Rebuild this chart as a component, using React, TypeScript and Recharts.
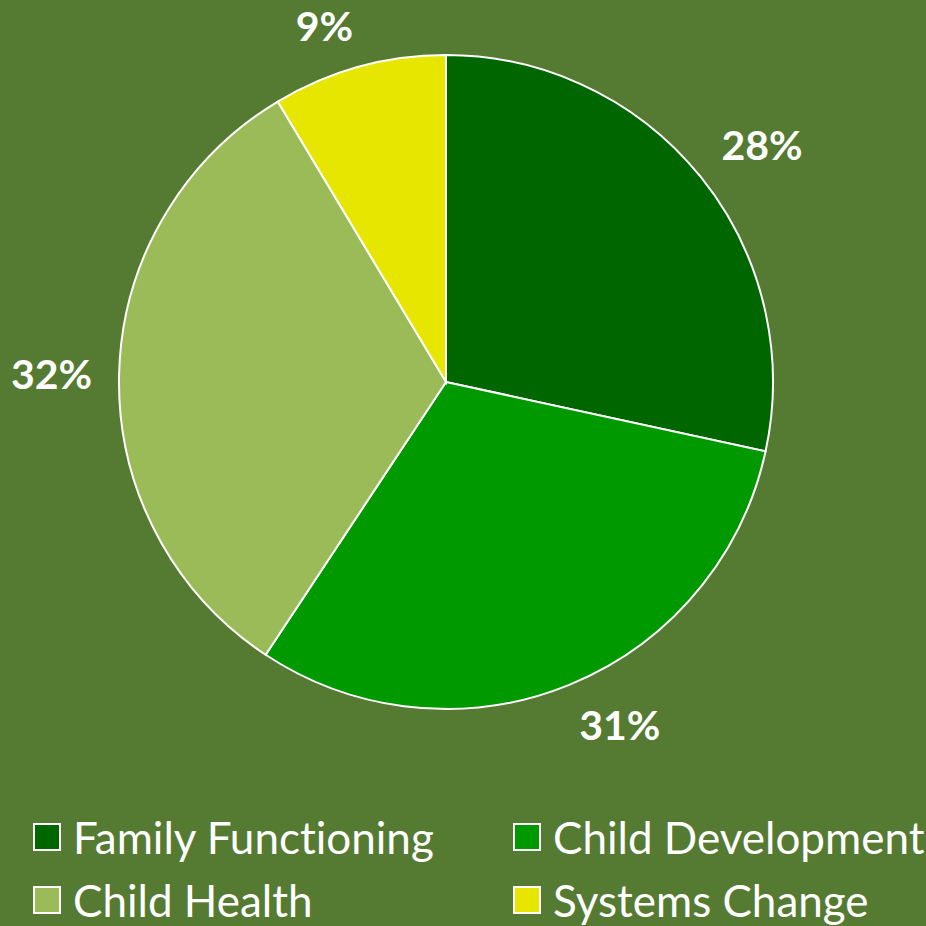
import React from 'react';
import { PieChart, Pie, Cell, Legend } from 'recharts';

const categories = ['Family Functioning', 'Child Development', 'Child Health', 'Systems Change'];
const values = [28.4, 30.9, 32.1, 8.6];
const colors = ['#006600', '#009900', '#9BBB59', '#E6E600'];

const data = categories.map((name, i) => ({ name, value: values[i] }));

const RADIAN = Math.PI / 180;
const FONT = "Lato, 'Open Sans', sans-serif";
const clamp = (v: number) => Math.max(-1, Math.min(1, v));

const renderLabel = (props: any) => {
  const { cx, cy, midAngle, outerRadius, percent } = props;
  const text = `${Math.round(percent * 100)}%`;
  const w = text.length * 27;
  const h = 30;
  const r = outerRadius + 27;
  const c = Math.cos(-midAngle * RADIAN);
  const s = Math.sin(-midAngle * RADIAN);
  const x = cx + r * c + (w / 2) * clamp(c * 4);
  const y = cy + r * s + (h / 2) * clamp(s * 3);
  return (
    <text
      x={x}
      y={y}
      fill="#FFFFFF"
      textAnchor="middle"
      dominantBaseline="central"
      fontFamily={FONT}
      fontWeight={700}
      fontSize={41}
    >
      {text}
    </text>
  );
};

const LegendContent = () => {
  const colLeft = [33, 513];
  const rowCenter = [837, 900];
  return (
    <div style={{ position: 'relative', width: 926, height: 126 }}>
      {categories.map((name, i) => {
        const col = i % 2;
        const row = Math.floor(i / 2);
        return (
          <div
            key={name}
            style={{
              position: 'absolute',
              left: colLeft[col],
              top: rowCenter[row] - 800 - 22,
              height: 44,
              display: 'flex',
              alignItems: 'center',
              whiteSpace: 'nowrap',
            }}
          >
            <span
              style={{
                display: 'inline-block',
                width: 24,
                height: 24,
                background: colors[i],
                border: '2px solid #FFFFFF',
                marginRight: 12,
                boxSizing: 'content-box',
              }}
            />
            <span
              style={{
                color: '#FFFFFF',
                fontFamily: FONT,
                fontSize: 44,
                lineHeight: '44px',
                fontVariantLigatures: 'none',
              }}
            >
              {name}
            </span>
          </div>
        );
      })}
    </div>
  );
};

export default function App() {
  return (
    <div style={{ position: 'absolute', left: 0, top: 0, width: 926, height: 926, background: '#557A32', overflow: 'hidden' }}>
      <PieChart width={926} height={926} margin={{ top: 0, right: 0, bottom: 0, left: 0 }}>
        <Pie
          data={data}
          dataKey="value"
          nameKey="name"
          cx={446}
          cy={382}
          outerRadius={327}
          startAngle={90}
          endAngle={-270}
          stroke="#FFFFFF"
          strokeWidth={2}
          label={renderLabel}
          labelLine={false}
          isAnimationActive={false}
        >
          {data.map((d, i) => (
            <Cell key={d.name} fill={colors[i]} />
          ))}
        </Pie>
        <Legend
          content={<LegendContent />}
          wrapperStyle={{ position: 'absolute', left: 0, top: 800, width: 926, height: 126 }}
        />
      </PieChart>
    </div>
  );
}
